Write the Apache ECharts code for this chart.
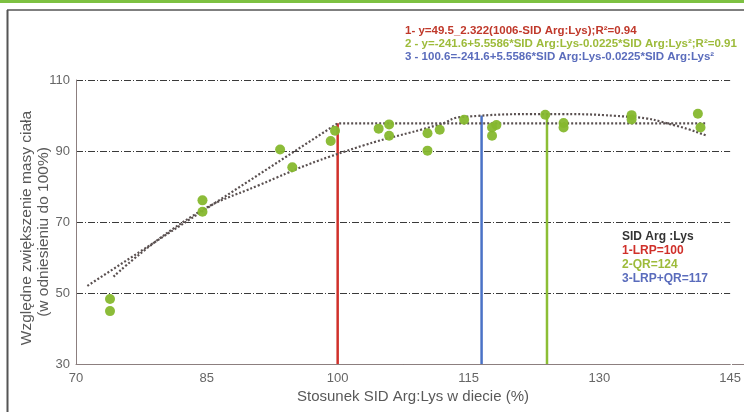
<!DOCTYPE html>
<html><head><meta charset="utf-8">
<script src="https://cdn.jsdelivr.net/npm/echarts@6/dist/echarts.min.js"></script>
<style>html,body{margin:0;padding:0;background:#fff}#c{width:744px;height:412px}</style>
</head><body><div id="c"></div>
<script>
// ---- data ----
const xTicks = [70, 85, 100, 115, 130, 145];
const yTicks = [30, 50, 70, 90, 110];
const obsX = [73.9, 73.9, 84.5, 84.5, 93.4, 94.8, 99.2, 99.7, 104.7, 105.9, 105.9, 110.3, 110.3, 111.7, 114.5, 117.7, 117.7, 118.2, 123.8, 125.9, 125.9, 133.7, 133.7, 141.3, 141.6];
const obsY = [48.3, 44.9, 76.1, 72.9, 90.4, 85.4, 92.8, 95.7, 96.3, 97.5, 94.3, 95.0, 90.1, 96.0, 98.8, 96.6, 94.3, 97.3, 100.2, 97.9, 96.6, 100.1, 98.9, 100.5, 96.6];
const lrpX = [71.3, 100, 142.2];
const lrpY = [52.0, 97.8, 97.8];
const qrX = [74.3, 83.1, 91.1, 101.0, 111.7, 114.3, 123.9, 133.7, 138.7, 142.3];
const qrY = [54.6, 71.3, 80.5, 90.0, 97.5, 99.6, 100.4, 99.6, 97.2, 94.3];
const optLRP = [100, 97.8];
const optQR = [124, 100.4];
const optMix = [116.5, 100.0];
const eqTexts = ['1- y=49.5_2.322(1006-SID Arg:Lys);R²=0.94',
  '2 - y=-241.6+5.5586*SID Arg:Lys-0.0225*SID Arg:Lys²;R²=0.91',
  '3 - 100.6=-241.6+5.5586*SID Arg:Lys-0.0225*SID Arg:Lys²'];
const boxTexts = ['SID Arg :Lys', '1-LRP=100', '2-QR=124', '3-LRP+QR=117'];
const yTitle = ['Względne zwiększenie masy ciała', '(w odniesieniu do 100%)'];
const xTitle = 'Stosunek SID Arg:Lys w diecie (%)';
// ---------------------------------------

const zip = (a, b) => a.map((v, i) => [v, b[i]]);
const RED = '#d0302a', GREEN = '#8cbe35', BLUE = '#4a72c6', PT = '#86b82e';
const NARROW = '"Liberation Sans Narrow","Arial Narrow","Liberation Sans",sans-serif';

const chart = echarts.init(document.getElementById('c'), null, {renderer: 'canvas'});
const vline = (p, c) => ({
  type: 'line', data: [[p[0], 30], [p[0], p[1]]], symbol: 'none', silent: true,
  lineStyle: {color: c, width: 2.5}, z: 3
});
chart.setOption({
  animation: false,
  grid: {left: 76, right: 12, top: 80, bottom: 48, containLabel: false},
  xAxis: {
    type: 'value', min: xTicks[0], max: xTicks[xTicks.length - 1], interval: 15,
    axisLine: {show: true, lineStyle: {color: '#8c7f7f', width: 1}},
    axisTick: {show: false},
    axisLabel: {color: '#666', fontSize: 13, fontFamily: NARROW, margin: 8},
    splitLine: {show: false}
  },
  yAxis: {
    type: 'value', min: yTicks[0], max: yTicks[yTicks.length - 1], interval: 20,
    axisLine: {show: true, lineStyle: {color: '#8c7f7f', width: 1}},
    axisTick: {show: false},
    axisLabel: {color: '#666', fontSize: 13, fontFamily: NARROW, margin: 6},
    splitLine: {show: true, lineStyle: {color: '#3a3a3a', width: 1, type: [7, 2, 1, 2]}}
  },
  series: [
    vline(optLRP, RED), vline(optMix, BLUE), vline(optQR, GREEN),
    {type: 'line', data: zip(lrpX, lrpY), symbol: 'none', silent: true,
     lineStyle: {color: '#5a5050', width: 2.2, type: [2, 2]}, z: 4},
    {type: 'line', data: zip(qrX, qrY), smooth: 0.5, symbol: 'none', silent: true,
     lineStyle: {color: '#5a5050', width: 2.2, type: [2, 2]}, z: 4},
    {type: 'scatter', data: zip(obsX, obsY), symbolSize: 10,
     itemStyle: {color: PT, opacity: 0.95}, z: 5}
  ],
  graphic: [
    {type: 'rect', shape: {x: 0, y: 0, width: 744, height: 3}, style: {fill: '#7dc142'}},
    {type: 'line', shape: {x1: 7, y1: 10, x2: 744, y2: 10}, style: {stroke: '#555', lineWidth: 1.5}},
    {type: 'line', shape: {x1: 7.5, y1: 10, x2: 7.5, y2: 412}, style: {stroke: '#555', lineWidth: 2}},
    {type: 'line', shape: {x1: 732, y1: 364.5, x2: 744, y2: 364.5}, style: {stroke: '#8c7f7f', lineWidth: 1}},
    {type: 'text', left: 405, top: 25, style: {text: eqTexts[0], fill: '#c0392b', font: 'bold 11.5px ' + NARROW}},
    {type: 'text', left: 405, top: 38, style: {text: eqTexts[1], fill: '#9dbb3a', font: 'bold 11.5px ' + NARROW}},
    {type: 'text', left: 405, top: 51, style: {text: eqTexts[2], fill: '#5a6cbc', font: 'bold 11.5px ' + NARROW}},
    {type: 'text', left: 622, top: 231, style: {text: boxTexts[0], fill: '#333', font: 'bold 12px ' + NARROW}},
    {type: 'text', left: 622, top: 245, style: {text: boxTexts[1], fill: '#d0302a', font: 'bold 12px ' + NARROW}},
    {type: 'text', left: 622, top: 259, style: {text: boxTexts[2], fill: '#9dbb3a', font: 'bold 12px ' + NARROW}},
    {type: 'text', left: 622, top: 273, style: {text: boxTexts[3], fill: '#5a6cbc', font: 'bold 12px ' + NARROW}},
    {type: 'text', x: 27, y: 228, rotation: Math.PI / 2,
     style: {text: yTitle[0], fill: '#595959', font: '15.5px "Liberation Sans",Arial,sans-serif', textAlign: 'center', textVerticalAlign: 'middle'}},
    {type: 'text', x: 44, y: 232, rotation: Math.PI / 2,
     style: {text: yTitle[1], fill: '#595959', font: '15.5px "Liberation Sans",Arial,sans-serif', textAlign: 'center', textVerticalAlign: 'middle'}},
    {type: 'text', x: 413, y: 397,
     style: {text: xTitle, fill: '#595959', font: '15px "Liberation Sans",Arial,sans-serif', textAlign: 'center', textVerticalAlign: 'middle'}}
  ]
});
</script></body></html>
